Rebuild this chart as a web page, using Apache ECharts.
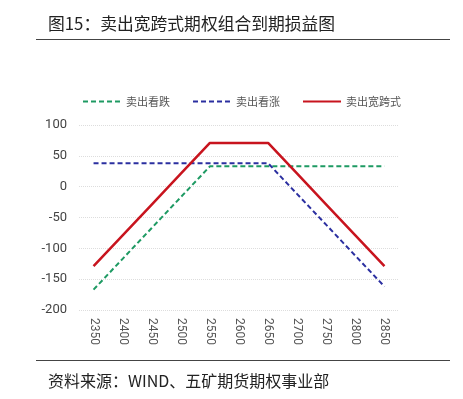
<!DOCTYPE html>
<html><head><meta charset="utf-8">
<script src="https://cdn.jsdelivr.net/npm/echarts@6/dist/echarts.min.js"></script>
<style>
html,body{margin:0;padding:0;background:#fff;}
#wrap{position:relative;width:463px;height:399px;overflow:hidden;}
#title{position:absolute;left:48px;top:11px;font-family:"Noto Sans CJK SC",sans-serif;font-size:16.8px;color:#222;}
#l1{position:absolute;left:36px;top:39px;width:414px;height:1px;background:#444;}
#l2{position:absolute;left:36px;top:360px;width:414px;height:1px;background:#444;}
#src{position:absolute;left:48px;top:368px;font-family:"Noto Sans CJK SC",sans-serif;font-size:16px;color:#222;}
#chart{position:absolute;left:0;top:0;width:463px;height:399px;}
</style></head>
<body><div id="wrap">
<div id="chart"></div>
<div id="title">图15：卖出宽跨式期权组合到期损益图</div>
<div id="l1"></div><div id="l2"></div>
<div id="src">资料来源：WIND、五矿期货期权事业部</div>
</div>
<script>
const categories = ['2350','2400','2450','2500','2550','2600','2650','2700','2750','2800','2850'];
const sellPut = [-167,-117,-67,-17,33,33,33,33,33,33,33];
const sellCall = [38,38,38,38,38,38,38,-12,-62,-112,-162];
const strangle = [-129,-79,-29,21,71,71,71,21,-29,-79,-129];
const seriesNames = ['卖出看跌','卖出看涨','卖出宽跨式'];

const chart = echarts.init(document.getElementById('chart'));
const font = '"Noto Sans CJK SC", sans-serif';
chart.setOption({
  animation:false,
  legend:{
    top:91, left:77, itemGap:22, itemWidth:38, itemHeight:10,
    itemStyle:{opacity:0},
    textStyle:{fontFamily:font,fontSize:11,color:'#555'},
    data:seriesNames
  },
  grid:{left:79, right:64, top:125, bottom:89},
  xAxis:{
    type:'category', data:categories, boundaryGap:true,
    axisLine:{show:false}, axisTick:{show:false},
    axisLabel:{rotate:-90, color:'#555', fontSize:12, margin:8, fontFamily:'Roboto, sans-serif'}
  },
  yAxis:{
    type:'value', min:-200, max:100, interval:50,
    axisLine:{show:false}, axisTick:{show:false},
    axisLabel:{color:'#444', fontSize:13, margin:12, fontFamily:'Roboto, sans-serif'},
    splitLine:{lineStyle:{color:'#ddd', type:'dotted', width:1}}
  },
  series:[
    {name:seriesNames[0], type:'line', data:sellPut, symbol:'none',
     lineStyle:{color:'#1e9a63', width:2, type:[5,3]}, itemStyle:{color:'#1e9a63'}},
    {name:seriesNames[1], type:'line', data:sellCall, symbol:'none',
     lineStyle:{color:'#2b2fa0', width:2, type:[5,3]}, itemStyle:{color:'#2b2fa0'}},
    {name:seriesNames[2], type:'line', data:strangle, symbol:'none',
     lineStyle:{color:'#c8141e', width:2.5}, itemStyle:{color:'#c8141e'}}
  ]
});
</script>
</body></html>
